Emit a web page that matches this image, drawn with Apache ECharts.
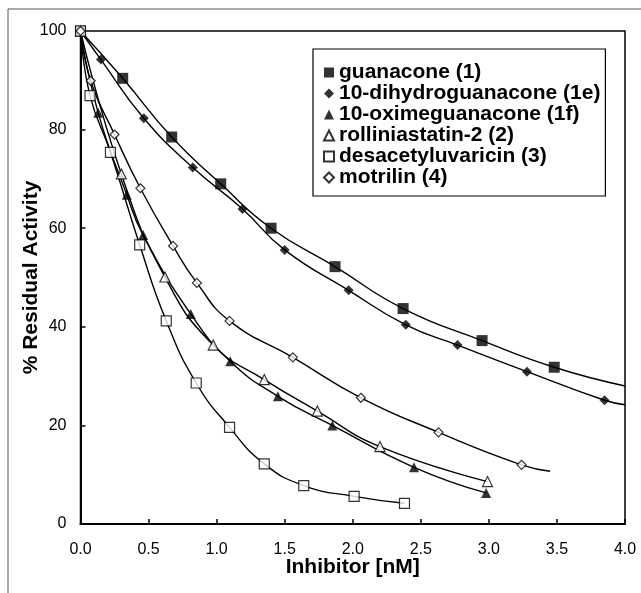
<!DOCTYPE html>
<html>
<head>
<meta charset="utf-8">
<script src="https://cdn.jsdelivr.net/npm/echarts@6/dist/echarts.min.js"></script>
<style>
    html, body { margin: 0; padding: 0; background: #fff; }
    #chart { width: 641px; height: 593px; }
</style>
</head>
<body>
<div id="chart"></div>
<script>
// 读图得到的数据点 [浓度 nM, 残余活性 %]
const guanacone = [[0, 100], [0.31, 90.4], [0.67, 78.5], [1.03, 69.0], [1.40, 60.0], [1.87, 52.2], [2.37, 43.7], [2.95, 37.2], [3.48, 31.8]];
const dihydroguanacone = [[0, 100], [0.15, 94.2], [0.465, 82.3], [0.825, 72.3], [1.19, 63.9], [1.50, 55.6], [1.97, 47.4], [2.39, 40.4], [2.77, 36.3], [3.28, 30.9], [3.85, 25.1]];
const oximeguanacone = [[0, 100], [0.13, 83.4], [0.34, 66.8], [0.46, 58.6], [0.81, 42.6], [1.10, 33.0], [1.45, 25.9], [1.85, 20.0], [2.45, 11.5], [2.98, 6.3]];
const rolliniastatin = [[0, 100], [0.30, 71.0], [0.62, 50.1], [0.975, 36.3], [1.35, 29.3], [1.74, 22.9], [2.20, 15.7], [2.99, 8.6]];
const desacetyluvaricin = [[0, 100], [0.07, 86.9], [0.22, 75.4], [0.435, 56.6], [0.63, 41.2], [0.85, 28.6], [1.095, 19.6], [1.35, 12.2], [1.64, 7.8], [2.01, 5.6], [2.38, 4.2]];
const motrilin = [[0, 100], [0.075, 89.9], [0.25, 79.0], [0.44, 68.1], [0.68, 56.4], [0.855, 48.9], [1.095, 41.2], [1.56, 33.8], [2.06, 25.6], [2.63, 18.6], [3.24, 12.0]];

// 拟合曲线超出最后一个数据点的终点
const guanaconeEnd = [4.0, 28.0];
const dihydroEnd = [4.0, 24.2];
const motrilinEnd = [3.45, 10.7];

const seriesNames = ['guanacone (1)', '10-dihydroguanacone (1e)', '10-oximeguanacone (1f)', 'rolliniastatin-2 (2)', 'desacetyluvaricin (3)', 'motrilin (4)'];
const xTicks = [0, 0.5, 1, 1.5, 2, 2.5, 3, 3.5, 4];
const yTicks = [0, 20, 40, 60, 80, 100];

const fontFamily = '"Liberation Sans", Arial, sans-serif';

let markers = [
    { data: guanacone, symbol: 'rect', size: 11, fill: '#000' },
    { data: dihydroguanacone, symbol: 'diamond', size: 10, fill: '#000' },
    { data: oximeguanacone, symbol: 'triangle', size: 10, fill: '#000' },
    { data: rolliniastatin, symbol: 'triangle', size: 10, fill: '#fff' },
    { data: desacetyluvaricin, symbol: 'rect', size: 10, fill: '#fff' },
    { data: motrilin, symbol: 'diamond', size: 9, fill: '#fff' },
];
let curves = [
    guanacone.concat([guanaconeEnd]),
    dihydroguanacone.concat([dihydroEnd]),
    oximeguanacone,
    rolliniastatin,
    desacetyluvaricin,
    motrilin.concat([motrilinEnd]),
];

let series = [];
curves.forEach((item) => {
    series.push({
        type: 'line',
        data: item,
        smooth: 0.5,
        showSymbol: false,
        symbol: 'none',
        silent: true,
        lineStyle: { color: '#000', width: 1.4 },
        z: 2,
    });
});
markers.forEach((item, index) => {
    series.push({
        name: seriesNames[index],
        type: 'scatter',
        data: item.data,
        symbol: item.symbol,
        symbolSize: item.size,
        itemStyle: { color: item.fill, borderColor: '#000', borderWidth: item.fill === '#fff' ? 1.2 : 0 },
        z: 3,
    });
});

let option = {
    animation: false,
    textStyle: { fontFamily: fontFamily },
    grid: {
        left: 80.5,
        right: 16,
        top: 31,
        bottom: 69,
        show: true,
        borderColor: '#000',
        borderWidth: 1.5,
    },
    legend: {
        orient: 'vertical',
        left: 313,
        top: 49,
        padding: [13, 5, 8, 10],
        itemGap: 0,
        itemWidth: 10,
        itemHeight: 10,
        borderColor: '#000',
        borderWidth: 1.2,
        backgroundColor: '#fff',
        data: seriesNames.map((name, index) => ({
            name: name,
            icon: markers[index].symbol,
        })),
        textStyle: {
            fontFamily: fontFamily,
            fontSize: 21,
            fontWeight: 'bold',
            color: '#000',
            lineHeight: 19.6,
        },
    },
    xAxis: {
        type: 'value',
        min: 0,
        max: 4,
        interval: 0.5,
        name: 'Inhibitor [nM]',
        nameLocation: 'middle',
        nameGap: 33,
        nameMoveOverlap: false,
        nameTextStyle: { fontSize: 21, fontWeight: 'bold', color: '#000', fontFamily: fontFamily },
        axisLine: { lineStyle: { color: '#000', width: 2 } },
        axisTick: { inside: true, length: 5, lineStyle: { color: '#000', width: 1.5 } },
        axisLabel: {
            margin: 18,
            fontSize: 16,
            color: '#000',
            formatter: (v) => xTicks.includes(v) ? v.toFixed(1) : '',
        },
        splitLine: { show: false },
    },
    yAxis: {
        type: 'value',
        min: 0,
        max: 100,
        interval: 20,
        name: '% Residual Activity',
        nameLocation: 'middle',
        nameGap: 39,
        nameMoveOverlap: false,
        nameTextStyle: { fontSize: 21, fontWeight: 'bold', color: '#000', fontFamily: fontFamily },
        axisLine: { lineStyle: { color: '#000', width: 2 } },
        axisTick: { inside: true, length: 5, lineStyle: { color: '#000', width: 1.5 } },
        axisLabel: {
            margin: 14,
            fontSize: 16,
            color: '#000',
            formatter: (v) => yTicks.includes(v) ? String(v) : '',
        },
        splitLine: { show: false },
    },
    graphic: [
        { type: 'line', shape: { x1: 8, y1: 9, x2: 641, y2: 9 }, style: { stroke: '#555', lineWidth: 1 } },
        { type: 'line', shape: { x1: 8, y1: 9, x2: 8, y2: 593 }, style: { stroke: '#555', lineWidth: 1 } },
    ],
    series: series,
};

let chartInstance = echarts.init(document.getElementById('chart'), null, { renderer: 'canvas' });
chartInstance.setOption(option);
</script>
</body>
</html>
